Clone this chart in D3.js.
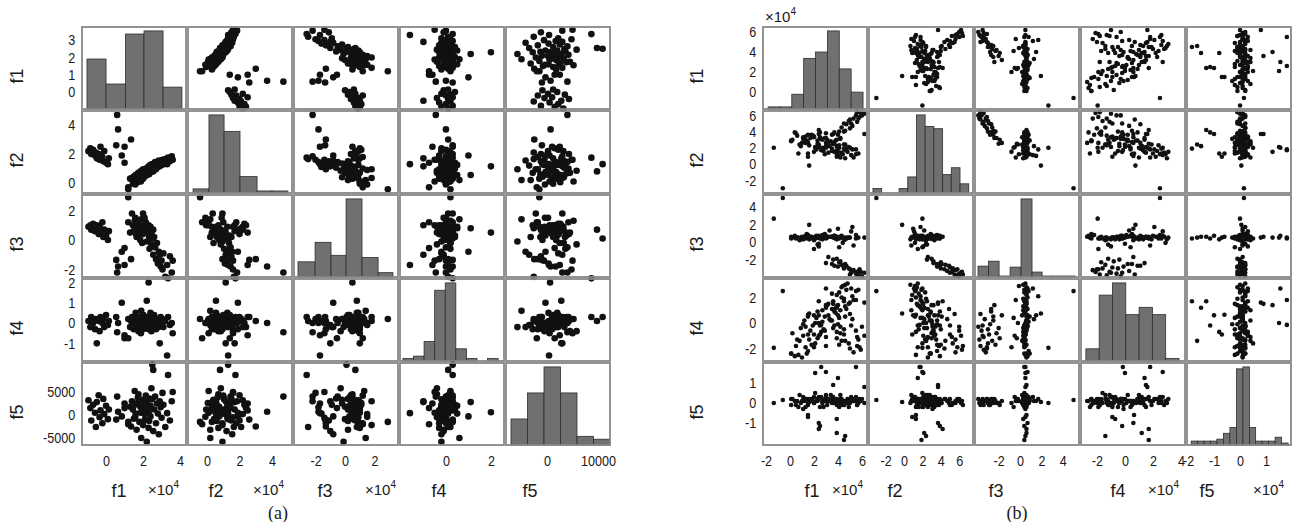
<!DOCTYPE html>
<html>
<head>
<meta charset="utf-8">
<script src="https://cdn.jsdelivr.net/npm/d3@7/dist/d3.min.js"></script>
<style>
  body { margin: 0; background: #fff; }
  svg { display: block; font-family: "Liberation Sans", Arial, sans-serif; }
</style>
</head>
<body>
<div class="svgContainer"></div>
<script>
let names = ["f1", "f2", "f3", "f4", "f5"];

// ---------- panel (a) points ----------
let aF1 = [
  -0.95, -0.85, -0.8, -0.7, -0.6, -0.55, -0.5, -0.4, -0.35, -0.3, -0.2, -0.15, -0.1, 0.0, 0.1, 0.15,
  0.6, 0.65, 0.55, 1.0, 1.35, 1.0, 0.85,
  1.2, 1.2, 1.4, 1.45, 1.5, 1.55, 1.6, 1.65, 1.7, 1.75, 1.8, 1.85, 1.9, 1.9, 1.95, 2.0, 2.0, 2.02, 1.3, 1.58, 1.72, 1.88,
  2.1, 2.15, 2.2, 2.2, 2.25, 2.3, 2.3, 2.35, 2.4, 2.4, 2.45, 2.5, 2.55, 2.55, 2.6, 2.65, 2.7, 2.75, 2.8, 2.85, 2.9, 2.95, 3.0, 3.05, 2.08,
  3.1, 3.2, 3.3, 3.35, 3.45, 3.55, 3.6,
  1.62, 2.33, 2.48
];
let aF2 = [
  2.2, 2.4, 2.0, 2.3, 1.9, 2.1, 1.7, 2.0, 1.6, 2.5, 1.8, 1.5, 2.2, 1.4, 1.3, 1.7,
  4.7, 3.7, 2.6, 2.5, 3.0, 1.4, 1.9,
  -0.43, -0.3, 0.35, -0.05, 0.45, 0.1, 0.55, 0.2, 0.05, 0.7, 0.3, 0.75, 0.2, 0.85, 0.4, 0.95, 0.3, 0.6, 0.3, -0.1, 0.65, 0.1,
  0.45, 1.0, 0.55, 0.95, 0.6, 1.15, 0.7, 1.05, 0.75, 1.25, 0.85, 1.3, 0.8, 1.2, 1.0, 1.45, 0.95, 1.35, 1.1, 1.55, 1.15, 1.45, 1.25, 1.6, 0.9,
  1.3, 1.65, 1.3, 1.75, 1.5, 1.85, 1.6,
  0.55, 0.6, 1.05
];
let aF3 = [
  0.9, 1.0, 0.7, 1.1, 0.6, 0.8, 1.0, 0.4, 0.9, 0.5, 1.2, 0.2, 0.7, 0.3, 0.0, 0.6,
  -2.2, -1.8, -1.35, -1.7, -1.3, -0.55, -0.8,
  2.9, 1.2, 1.8, 1.0, 0.6, 1.3, 0.8, 0.2, 1.1, 0.5, 0.9, 0.0, 1.4, 0.7, -0.2, 1.8, 0.4, 0.9, 0.5, 1.5, 0.3, 1.0,
  0.6, 1.2, 0.8, -0.1, 0.5, 0.5, 1.0, -0.6, 0.3, 0.9, -0.3, 0.1, 0.7, -1.0, 0.2, -0.5, -1.3, -0.2, -1.6, -0.8, -1.0, -1.8, -1.4, -2.0, 1.5,
  -0.9, -2.5, -1.7, -2.6, -1.1, -2.2, -1.4,
  0.4, 0.2, 0.6
];
let aF4 = [
  0.1, -0.2, 0.3, 0.0, -0.3, 0.2, -1.0, 0.1, -0.4, 0.3, 0.0, 0.2, -0.2, 0.4, -0.1, 0.1,
  -0.45, 0.0, 0.3, -0.6, 0.1, -0.75, 1.0,
  0.2, -0.75, 0.3, 0.0, -0.3, 0.2, 0.5, -0.1, 0.1, -0.4, 0.3, 0.0, 0.6, -0.2, 0.2, 0.1, -0.3, 0.4, -0.2, 0.0, 0.3, -0.5,
  0.0, 0.3, 1.1, -0.2, 0.1, 2.0, -0.3, 0.2, 0.0, 0.5, -0.4, 0.3, 0.1, -0.1, 0.4, 0.0, -0.3, 0.2, 0.1, -0.2, -1.0, 0.3, 0.0, 0.2, -0.1,
  -0.2, 0.1, -1.6, 0.3, -0.1, 0.0, -0.5,
  -0.1, 0.0, -0.2
];
let aF5 = [
  3200, 1500, -1200, 2200, 500, -2600, 2800, 4300, -500, 1000, -1800, 3500, 200, 2000, -900, 1200,
  4000, 700, -1000, 2500, -2500, 1500, -300,
  -1500, -2000, 3000, 1200, -800, 5200, 300, -3200, 2600, 4500, -1500, 1800, -5000, 600, 3300, -2200, 1000, 2200, 1800, -400, 3800, 500,
  -1000, 4200, 2800, -5800, 1500, 600, -2800, 3600, -300, 2000, 5800, 10900, 9800, -3500, 1200, 4000, -1800, 2500, 300, -4200, 3000, 1700, -600, 4800, 200,
  2200, -2600, 400, 8700, -1200, 3000, 5000,
  2300, -1300, 3400
];

let aEdges1 = [-1.03, 0.0, 1.05, 2.05, 3.08, 4.1];
let aCounts1 = [16, 8, 24, 25, 7];
let aEdges2 = [-0.86, 0.12, 1.05, 2.03, 3.08, 4.0, 4.98];
let aCounts2 = [2, 38, 30, 8, 1, 1];
let aEdges3 = [-3.19, -2.03, -0.95, 0.07, 1.15, 2.24, 3.25];
let aCounts3 = [7, 16, 10, 36, 9, 2];
let aEdges4 = [-1.91, -1.44, -0.97, -0.5, -0.03, 0.44, 0.91, 1.38, 1.85, 2.32];
let aCounts4 = [1, 2, 8, 29, 32, 5, 1, 0, 1];
let aEdges5 = [-7060, -3820, -590, 2650, 5880, 9120, 12350];
let aCounts5 = [9, 18, 27, 18, 3, 2];

// panel (a) axis limits and ticks
let aXLim = [[-1.3, 4.32], [-1.17, 5.23], [-3.46, 3.59], [-2.04, 2.58], [-8040, 12350]];
let aYLim = [[-0.98, 3.76], [-0.69, 4.97], [-2.51, 3.05], [-1.87, 2.17], [-6520, 11300]];
let aXTicks = [[0, 2, 4], [0, 2, 4], [-2, 0, 2], [0, 2], [0, 10000]];
let aYTicks = [[0, 1, 2, 3], [0, 2, 4], [-2, 0, 2], [-1, 0, 1, 2], [-5000, 0, 5000]];

// ---------- panel (b) points ----------
// main cloud, f5 tails, three stray points, then the low-f3 group
let bF1 = [
  0.6, 0.1, 1.1, 0.4, 1.3, 0.2, 1.5, 0.8, 1.7, 0.5,
  1.4, 2.0, 0.9, 1.8, 1.1, 2.3, 1.3, 2.1, 1.2, 2.5,
  1.6, 2.7, 1.9, 2.4, 1.5, 2.9, 2.2, 3.0, 2.0, 2.8,
  2.3, 3.3, 2.6, 3.5, 2.4, 3.1, 3.7, 2.7, 3.4, 3.9,
  2.9, 3.6, 4.1, 3.2, 3.8, 4.3, 3.0, 4.0, 4.5, 3.5,
  4.2, 4.7, 3.7, 4.4, 4.9, 3.9, 4.6, 5.1, 4.1, 4.8,
  5.3, 4.3, 5.0, 5.5, 4.6, 5.2, 5.7,
  1.0, 0.1, 2.0, 3.0, 4.2, 0.7,
  4.6, 3.9, 2.5, 2.4, 1.5, 3.9, 2.6, 3.6, 5.5, 6.2, 3.0, 4.0, 4.5, 2.4, 2.1, 1.5,
  -1.35, -0.6, 1.6,
  3.2, 3.6, 3.0, 3.9, 3.5, 4.2, 3.7, 4.1, 4.0, 4.6, 4.3, 4.5, 4.7, 5.0, 4.5, 5.2, 4.9, 5.1, 5.3, 5.6, 5.0, 5.8, 5.5, 5.7, 5.9, 6.0, 5.6, 6.2
];
let bF2 = [
  3.5, 2.8, 3.3, 3.9, 2.6, 3.0, 3.6, 2.4, 3.2, 3.8,
  2.9, 3.4, 2.2, 3.6, 3.1, 2.5, 3.4, 2.0, 3.0, 3.3,
  2.3, 3.0, 3.5, 2.1, 2.7, 3.2, 1.8, 2.6, 3.3, 1.6,
  2.9, 2.2, 3.1, 1.9, 2.4, 3.0, 1.5, 2.0, 2.8, 1.7,
  1.2, 2.5, 2.0, 1.4, 2.9, 1.3, 2.2, 1.0, 2.4, 1.6,
  0.8, 1.9, 2.6, 1.2, 2.1, 0.9, 1.7, 1.1, 2.3, 1.5,
  0.8, 1.4, 2.0, 1.2, 0.7, 1.8, 1.3,
  2.6, 2.9, 1.5, 3.8, 3.1, 1.3,
  2.4, 2.2, 3.9, 3.7, 0.9, 1.3, 1.7, 3.7, 1.8, 3.7, 2.0, 1.5, 1.9, 4.2, 2.1, 1.3,
  2.0, -3.0, -0.2,
  2.6, 2.5, 3.2, 3.0, 3.6, 3.2, 3.9, 4.0, 3.6, 4.1, 4.5, 4.0, 4.9, 4.4, 5.0, 4.7, 5.3, 5.0, 5.6, 5.2, 5.5, 5.8, 6.0, 5.6, 6.3, 6.0, 6.4, 6.2
];
let bF3 = [
  0.5, 0.6, 0.3, 0.7, 0.4, 0.5, 0.8, 0.2, 0.6, 0.4,
  0.9, 0.5, 0.3, 0.6, 0.5, -0.3, 0.7, 0.4, 0.6, 0.5,
  0.3, 0.8, 0.4, -0.5, 0.6, 0.5, 0.7, 0.4, 0.2, 0.6,
  0.5, 1.3, 0.4, 0.6, -0.2, 0.5, 0.7, 0.3, 0.6, 0.4,
  0.9, 0.5, -0.6, 0.6, 0.4, 0.7, 0.5, 1.5, 0.3, 0.6,
  0.5, 0.4, 0.7, -0.1, 0.5, 0.6, 0.3, 1.2, 0.4, 0.5,
  -0.4, 0.6, 0.5, 0.8, 0.3, 1.7, 0.5,
  0.6, 0.4, -0.8, 0.5, 0.6, 0.5,
  0.5, 0.6, 0.4, 0.7, 0.5, 0.3, 0.5, 0.6, 0.4, 0.5, 0.7, 0.5, 0.4, 0.6, 0.5, 0.6,
  2.65, 5.0, 1.95,
  -1.7, -2.0, -2.4, -1.9, -2.5, -2.2, -2.7, -2.3, -2.8, -2.5, -2.6, -3.0, -2.7, -3.1, -2.9, -3.3, -3.0, -3.5, -3.2, -3.4, -3.7, -3.1, -3.6, -3.8, -3.4, -3.9, -3.7, -3.5
];
let bF4 = [
  -1.3, -2.4, -1.0, -2.6, -1.9, -0.8, -2.2, -1.4, -0.6, -1.8,
  -2.4, -0.9, -0.4, -1.7, -0.1, -1.2, -0.3, -1.6, 0.2, -0.9,
  -1.3, 0.1, -0.2, -1.0, 0.5, -0.6, 0.4, -1.1, 0.6, -0.5,
  0.9, 0.3, -0.7, 1.1, 0.0, 1.4, -0.2, 1.0, 0.2, 1.3,
  0.5, 1.7, 0.4, 1.5, 0.8, 2.0, 1.2, 0.6, 1.9, 2.3,
  1.0, 2.6, 1.1, 2.9, 1.5, 2.2, 1.3, 2.7, 2.4, 3.1,
  1.8, 2.8, 1.6, 2.5, 3.0, 2.1, 2.6,
  -2.7, -2.4, -1.9, -1.8, -0.3, -2.5,
  -1.4, 1.2, -0.2, 0.6, -0.9, -0.7, -0.15, 1.5, 1.8, 1.6, 2.7, 1.4, 1.7, 1.7, 0.0, 0.65,
  -1.95, 2.5, 0.75,
  0.6, -0.4, 1.4, -1.2, 0.2, -0.8, 0.9, -1.7, -0.1, 0.5, -1.4, -0.5, 1.1, -2.0, -0.9, 0.3, -1.6, -0.2, -2.3, -1.1, 0.7, -1.9, -0.6, -1.3, -2.1, -0.3, -1.8, -1.0
];
let bF5 = [
  0.1, -0.1, 0.3, 0.1, -0.2, 0.2, 0.0, 0.4, 0.1, -0.1,
  0.2, 0.3, 0.0, 0.2, -0.3, 0.1, 0.2, 0.5, 0.1, -0.2,
  0.2, 0.0, 0.1, 0.3, -0.1, 0.2, 0.1, 0.4, 0.0, -0.2,
  0.2, 0.1, 0.3, 0.0, 0.2, -0.1, 0.2, 0.1, 0.4, 0.0,
  0.1, 0.3, -0.2, 0.2, 0.0, 0.1, 0.3, 0.1, -0.1, 0.2,
  0.4, 0.0, 0.2, 0.1, -0.2, 0.2, 0.1, 0.3, 0.0, 0.2,
  0.1, -0.1, 0.2, 0.3, 0.0, 0.2, 0.1,
  0.1, 0.2, 0.0, 0.1, 0.2, -0.2,
  -1.65, -1.5, -1.15, -1.0, -0.7, -0.8, 1.8, 0.9, 1.8, 0.8, 1.55, 1.25, -1.85, -1.3, 1.5, -0.6,
  0.0, 0.15, 0.05,
  0.1, 0.0, 0.2, -0.1, 0.1, 0.0, 0.2, 0.1, -0.1, 0.0, 0.2, 0.1, 0.0, 0.2, -0.1, 0.1, 0.0, 0.2, 0.1, -0.1, 0.0, 0.2, 0.1, 0.0, 0.1, 0.2, -0.1, 0.0
];

// panel (b) histograms
let bEdges1 = [-1.83, -0.84, 0.15, 1.14, 2.13, 3.12, 4.11, 5.1, 6.09];
let bCounts1 = [1, 1, 7, 24, 27, 37, 19, 8];
let bEdges2 = [-3.37, -2.42, -1.48, -0.53, 0.41, 1.36, 2.3, 3.25, 4.2, 5.14, 6.09, 7.04];
let bCounts2 = [2, 0, 0, 2, 7, 34, 29, 28, 8, 11, 4];
let bEdges3 = [-3.93, -2.94, -1.96, -0.93, 0.09, 1.12, 2.06, 3.08, 4.11, 5.14];
let bCounts3 = [11, 16, 1, 10, 79, 5, 1, 1, 1];
let bEdges4 = [-2.79, -1.84, -0.89, 0.06, 1.01, 1.96, 2.91, 3.86];
let bCounts4 = [5, 27, 32, 19, 22, 19, 1];
let bEdges5 = [-1.88, -1.63, -1.38, -1.14, -0.89, -0.64, -0.39, -0.14, 0.11, 0.36, 0.6, 0.85, 1.1, 1.35, 1.6, 1.85];
let bCounts5 = [2, 2, 2, 2, 3, 6, 9, 39, 40, 9, 2, 2, 2, 4, 1];

// panel (b) axis limits and ticks
let bXLim = [[-2.25, 6.42], [-3.8, 7.5], [-4.21, 5.51], [-3.14, 4.29], [-2.04, 1.96]];
let bYLim = [[-1.7, 6.5], [-3.58, 6.54], [-3.98, 5.34], [-2.98, 3.45], [-2.1, 2.0]];
let bXTicks = [[-2, 0, 2, 4, 6], [-2, 0, 2, 4, 6], [-2, 0, 2, 4], [-2, 0, 2, 4], [-2, -1, 0, 1]];
let bYTicks = [[0, 2, 4, 6], [-2, 0, 2, 4, 6], [-2, 0, 2, 4], [-2, 0, 2], [-1, 0, 1]];

// ---------- layout ----------
let width = 1299,
  height = 522,
  cellW = 104,
  cellH = 82,
  gap = 2,
  topY = 27;

let svg = d3
  .select(".svgContainer")
  .append("svg")
  .attr("width", width)
  .attr("height", height);

svg.append("rect").attr("width", width).attr("height", height).attr("fill", "#fff");

function expLabel(x, y) {
  let t = svg
    .append("text")
    .attr("x", x)
    .attr("y", y)
    .attr("font-size", 15)
    .attr("fill", "#1a1a1a");
  t.append("tspan").text("\u00d710");
  t.append("tspan").attr("dy", -7).attr("font-size", 10).text("4");
}

function drawPanel(p) {
  let xs = p.xLim.map(d => d3.scaleLinear().domain(d).range([0, cellW]));
  let ys = p.yLim.map(d => d3.scaleLinear().domain(d).range([cellH, 0]));
  let idx = d3.range(p.data[0].length);

  for (let i = 0; i < 5; i++) {
    for (let j = 0; j < 5; j++) {
      let g = svg
        .append("g")
        .attr("transform", `translate(${p.left + j * (cellW + gap)},${topY + i * (cellH + gap)})`);

      if (i === j) {
        // histogram on the diagonal
        let counts = p.counts[i],
          edges = p.edges[i];
        let hy = d3
          .scaleLinear()
          .domain([0, d3.max(counts) * 1.05])
          .range([cellH, 0]);
        let bins = counts
          .map((c, k) => ({ c: c, x0: edges[k], x1: edges[k + 1] }))
          .filter(b => b.c > 0);
        g.selectAll("rect.bar")
          .data(bins)
          .enter()
          .append("rect")
          .attr("class", "bar")
          .attr("x", b => xs[j](b.x0))
          .attr("width", b => xs[j](b.x1) - xs[j](b.x0))
          .attr("y", b => hy(b.c))
          .attr("height", b => cellH - hy(b.c))
          .attr("fill", "#707070")
          .attr("stroke", "#2e2e2e")
          .attr("stroke-width", 0.8);
      } else {
        g.selectAll("circle")
          .data(idx)
          .enter()
          .append("circle")
          .attr("cx", n => xs[j](p.data[j][n]))
          .attr("cy", n => ys[i](p.data[i][n]))
          .attr("r", p.r)
          .attr("fill", "#111");
      }

      g.append("rect")
        .attr("width", cellW)
        .attr("height", cellH)
        .attr("fill", "none")
        .attr("stroke", "#888")
        .attr("stroke-width", 1.8);
    }
  }

  // y tick labels on the first column (the source lettering is narrow)
  for (let i = 0; i < 5; i++) {
    let ax = svg
      .append("g")
      .attr("transform", `translate(${p.left},${topY + i * (cellH + gap)})`)
      .call(
        d3.axisLeft(ys[i])
          .tickValues(p.yTicks[i])
          .tickSize(0)
          .tickPadding(8)
          .tickFormat(d => String(d))
      )
      .attr("font-size", 15)
      .attr("font-family", "Liberation Sans, Arial, sans-serif");
    ax.select(".domain").remove();
    ax.selectAll("text").attr("fill", "#1a1a1a").attr("transform", "scale(0.84,1)");
  }

  // x tick labels on the bottom row
  for (let j = 0; j < 5; j++) {
    let ax = svg
      .append("g")
      .attr("transform", `translate(${p.left + j * (cellW + gap)},${topY + 4 * (cellH + gap) + cellH})`)
      .call(
        d3.axisBottom(xs[j])
          .tickValues(p.xTicks[j])
          .tickSize(0)
          .tickPadding(10)
          .tickFormat(d => String(d))
      )
      .attr("font-size", 15)
      .attr("font-family", "Liberation Sans, Arial, sans-serif");
    ax.select(".domain").remove();
    ax.selectAll("text").attr("fill", "#1a1a1a").attr("transform", "scale(0.84,1)");
  }

  // variable names
  names.forEach((name, i) => {
    svg
      .append("text")
      .attr("transform", `translate(${p.rowLabelX},${topY + i * (cellH + gap) + cellH / 2 + 8}) rotate(-90)`)
      .attr("text-anchor", "middle")
      .attr("dominant-baseline", "central")
      .attr("font-size", 18)
      .attr("fill", "#1a1a1a")
      .text(name);
    svg
      .append("text")
      .attr("x", p.colLabelX[i])
      .attr("y", 497)
      .attr("text-anchor", "middle")
      .attr("font-size", 18)
      .attr("fill", "#1a1a1a")
      .text(name);
  });

  p.expX.forEach(x => expLabel(x, 495));

  svg
    .append("text")
    .attr("x", p.captionX)
    .attr("y", 519)
    .attr("text-anchor", "middle")
    .attr("font-family", "Liberation Serif, Times New Roman, serif")
    .attr("font-size", 18)
    .attr("fill", "#1a1a1a")
    .text(p.caption);
}

drawPanel({
  left: 82,
  data: [aF1, aF2, aF3, aF4, aF5],
  edges: [aEdges1, aEdges2, aEdges3, aEdges4, aEdges5],
  counts: [aCounts1, aCounts2, aCounts3, aCounts4, aCounts5],
  xLim: aXLim,
  yLim: aYLim,
  xTicks: aXTicks,
  yTicks: aYTicks,
  r: 3.3,
  rowLabelX: 17,
  colLabelX: [119, 216, 325, 439, 530],
  expX: [148, 253, 365],
  captionX: 278,
  caption: "(a)"
});

drawPanel({
  left: 763,
  data: [bF1, bF2, bF3, bF4, bF5],
  edges: [bEdges1, bEdges2, bEdges3, bEdges4, bEdges5],
  counts: [bCounts1, bCounts2, bCounts3, bCounts4, bCounts5],
  xLim: bXLim,
  yLim: bYLim,
  xTicks: bXTicks,
  yTicks: bYTicks,
  r: 2.3,
  rowLabelX: 697,
  colLabelX: [812, 895, 996, 1118, 1207],
  expX: [832, 1148, 1253],
  captionX: 1017,
  caption: "(b)"
});

// exponent marker above the top-left axis of (b)
expLabel(765, 22);
</script>
</body>
</html>
